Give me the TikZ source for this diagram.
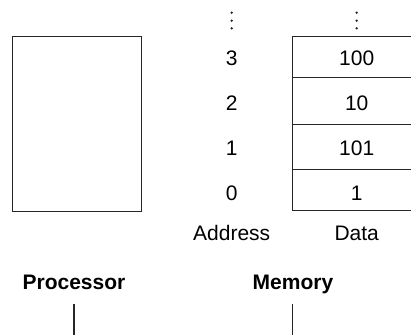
\documentclass[tikz,border=0pt]{standalone}
\usepackage{fontspec}
\setmainfont{Liberation Sans}
\begin{document}
\begin{tikzpicture}[x=1pt,y=-1pt,
  lbl/.style={inner sep=0pt,anchor=base,font=\fontsize{21}{25}\selectfont},
  blbl/.style={lbl,font=\fontsize{21}{25}\selectfont\bfseries},
  box/.style={draw=black!85,line width=1.1pt},
  conn/.style={draw=black!85,line width=1.1pt},
  dotm/.style={fill=black!85,draw=none}]
\useasboundingbox (0,0) rectangle (411,334);
\clip (0,0) rectangle (411,334);
% processor box
\node[box,minimum width=129pt,minimum height=175pt,inner sep=0pt,anchor=north west] (proc) at (11.7,36) {};
% memory cells
\node[box,minimum width=129pt,minimum height=41.3pt,inner sep=0pt,anchor=north west] (c3) at (292.3,36) {};
\node[box,minimum width=129pt,minimum height=46.4pt,inner sep=0pt,anchor=north west] (c2) at (292.3,77.3) {};
\node[box,minimum width=129pt,minimum height=45.6pt,inner sep=0pt,anchor=north west] (c1) at (292.3,123.7) {};
\node[box,minimum width=129pt,minimum height=41pt,inner sep=0pt,anchor=north west] (c0) at (292.3,169.3) {};
% dots
\foreach \yy in {12.7,20.7,28.3}{
  \fill[dotm] (231.7,\yy) circle (1.3pt);
  \fill[dotm] (356.7,\yy) circle (1.3pt);
}
% addresses
\node[lbl] (a3) at (231.7,65.5) {3};
\node[lbl] (a2) at (231.7,110) {2};
\node[lbl] (a1) at (231.7,155) {1};
\node[lbl] (a0) at (231.7,200.7) {0};
% data
\node[lbl] (d3) at (356.7,65.5) {100};
\node[lbl] (d2) at (356.7,110) {10};
\node[lbl] (d1) at (356.7,155) {101};
\node[lbl] (d0) at (356.7,200.7) {1};
% column labels
\node[lbl] (addr) at (231.7,240) {Address};
\node[lbl] (data) at (356.7,240) {Data};
% component labels
\node[blbl] (plabel) at (74,289) {Processor};
\node[blbl] (mlabel) at (293,289) {Memory};
% connectors
\coordinate (p1) at (74,304);
\coordinate (p2) at (74,340);
\coordinate (m1) at (292.7,304);
\coordinate (m2) at (292.7,340);
\draw[conn] (p1) -- (p2);
\draw[conn] (m1) -- (m2);
\end{tikzpicture}
\end{document}
